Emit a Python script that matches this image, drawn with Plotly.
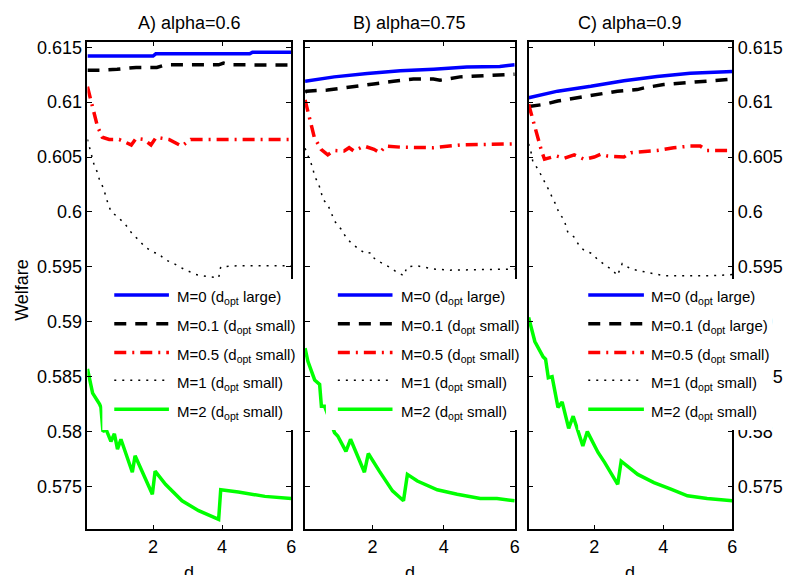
import plotly.graph_objects as go

W, H = 790, 575
FONT = "Liberation Sans, Arial, Helvetica, sans-serif"

# ---------------- data: welfare vs d ----------------
# Panel A (alpha = 0.6)
a_m0_d = [0.1, 2.0, 2.08, 4.8, 4.88, 6.0]
a_m0_w = [0.6142, 0.6142, 0.6144, 0.6144, 0.61455, 0.61455]
a_m01_d = [0.1, 0.45, 0.96, 1.51, 2.11, 2.37, 2.69, 3.9, 4.04, 4.24, 6.0]
a_m01_w = [0.6129, 0.6129, 0.6130, 0.61316, 0.61316, 0.6134, 0.6134, 0.6134, 0.61355, 0.6134, 0.61338]
a_m05_d = [0.1, 0.39, 0.53, 0.73, 1.02, 1.37, 1.51, 1.74, 1.94, 2.09, 2.46, 2.75, 2.83, 3.09, 4.47, 6.0]
a_m05_w = [0.6114, 0.6078, 0.6068, 0.6066, 0.6066, 0.6061, 0.6067, 0.6066, 0.6061, 0.6068, 0.6066,
           0.6061, 0.6060, 0.6066, 0.6066, 0.6066]
a_m1_d = [0.1, 0.18, 0.22, 0.3, 0.39, 0.45, 0.56, 0.62, 0.7, 0.79, 0.96, 1.19, 1.4, 1.6, 1.77, 2.03,
          2.17, 2.32, 2.6, 2.89, 3.24, 3.61, 3.9, 3.96, 4.47, 6.0]
a_m1_w = [0.6066, 0.6057, 0.6050, 0.6042, 0.6036, 0.6029, 0.6022, 0.6015, 0.6007, 0.6000, 0.5996,
          0.5989, 0.5980, 0.5974, 0.5968, 0.5963, 0.5962, 0.5957, 0.5953, 0.5948, 0.5943, 0.5941,
          0.5940, 0.5950, 0.5951, 0.5951]
a_m2_d = [0.1, 0.25, 0.45, 0.49, 0.55, 0.64, 0.78, 0.88, 0.97, 1.07, 1.4, 1.48, 1.98, 2.06, 2.36,
          2.84, 3.32, 3.9, 3.96, 4.47, 5.24, 6.0]
a_m2_w = [0.5857, 0.5835, 0.5825, 0.5822, 0.5800, 0.5802, 0.5791, 0.5798, 0.5784, 0.5793, 0.5763,
          0.5778, 0.5743, 0.5764, 0.5752, 0.5737, 0.5728, 0.5720, 0.5747, 0.5745, 0.5741, 0.5739]

# Panel B (alpha = 0.75)
b_m0_d = [0.1, 0.92, 1.85, 2.78, 3.72, 4.65, 5.58, 6.0]
b_m0_w = [0.6119, 0.6123, 0.6126, 0.61285, 0.6130, 0.6132, 0.61325, 0.6134]
b_m01_d = [0.1, 0.14, 0.73, 1.39, 2.03, 2.59, 3.15, 3.71, 3.9, 4.46, 5.02, 6.0]
b_m01_w = [0.6109, 0.6110, 0.6111, 0.61135, 0.61165, 0.6119, 0.6121, 0.6121, 0.6120, 0.6123, 0.6124, 0.61255]
b_m05_d = [0.1, 0.22, 0.36, 0.55, 0.74, 0.92, 1.2, 1.34, 1.47, 1.76, 2.04, 2.2, 2.37, 2.78, 3.72,
           4.46, 5.21, 6.0]
b_m05_w = [0.6102, 0.6086, 0.6068, 0.6057, 0.6052, 0.6056, 0.60555, 0.60585, 0.60555, 0.6060, 0.6057,
           0.6054, 0.6060, 0.6059, 0.60585, 0.6061, 0.60615, 0.6062]
b_m1_d = [0.1, 0.23, 0.32, 0.36, 0.46, 0.55, 0.59, 0.73, 0.83, 0.92, 1.11, 1.25, 1.39, 1.62, 1.81,
          1.95, 2.04, 2.23, 2.46, 2.69, 2.88, 2.97, 3.25, 3.72, 4.18, 6.0]
b_m1_w = [0.6058, 0.6048, 0.6040, 0.6033, 0.6027, 0.6019, 0.6012, 0.6007, 0.6000, 0.5992, 0.59845,
          0.5977, 0.5972, 0.5966, 0.5962, 0.5963, 0.5958, 0.5954, 0.5950, 0.5945, 0.5942, 0.5950,
          0.5951, 0.5948, 0.5947, 0.5948]
b_m2_d = [0.1, 0.18, 0.37, 0.51, 0.56, 0.65, 0.93, 1.02, 1.25, 1.38, 1.77, 1.88, 2.19, 2.56, 2.87,
          2.98, 3.26, 3.82, 4.38, 5.03, 5.5, 6.0]
b_m2_w = [0.5876, 0.5864, 0.5847, 0.5843, 0.5823, 0.5823, 0.5799, 0.5796, 0.5782, 0.5793, 0.5763,
          0.5780, 0.5764, 0.5746, 0.5737, 0.5761, 0.5755, 0.5747, 0.5743, 0.5739, 0.5739, 0.5737]

# Panel C (alpha = 0.9)
c_m0_d = [0.1, 0.94, 1.9, 2.86, 3.82, 4.78, 6.0]
c_m0_w = [0.6104, 0.6110, 0.61144, 0.61195, 0.61234, 0.61264, 0.6128]
c_m01_d = [0.1, 0.56, 0.94, 1.9, 2.67, 3.25, 3.44, 4.01, 4.78, 5.36, 6.0]
c_m01_w = [0.6096, 0.6098, 0.6101, 0.6106, 0.6110, 0.61114, 0.6113, 0.6116, 0.6118, 0.61195, 0.6121]
c_m05_d = [0.1, 0.18, 0.32, 0.47, 0.56, 0.9, 1.14, 1.42, 1.71, 2.0, 2.19, 2.38, 2.86, 3.06, 3.82,
           4.3, 4.78, 5.07, 5.26, 6.0]
c_m05_w = [0.6098, 0.6089, 0.6071, 0.6056, 0.6048, 0.6051, 0.6049, 0.6052, 0.6048, 0.6050, 0.60525,
           0.6051, 0.6050, 0.6054, 0.6056, 0.60585, 0.6060, 0.6060, 0.6056, 0.6056]
c_m1_d = [0.1, 0.19, 0.22, 0.37, 0.47, 0.61, 0.7, 0.8, 0.9, 0.99, 1.12, 1.23, 1.42, 1.57, 1.71,
          1.95, 2.09, 2.34, 2.53, 2.67, 2.81, 3.06, 3.53, 4.01, 4.78, 5.45, 6.0]
c_m1_w = [0.6062, 0.6052, 0.6046, 0.6039, 0.6033, 0.6025, 0.6019, 0.6012, 0.6006, 0.5998, 0.59936,
          0.5982, 0.5977, 0.5969, 0.5965, 0.5962, 0.5957, 0.5951, 0.5947, 0.5942, 0.5953, 0.5948,
          0.5945, 0.5942, 0.5942, 0.5942, 0.5943]
c_m2_d = [0.1, 0.28, 0.52, 0.59, 0.67, 0.78, 0.95, 1.07, 1.26, 1.39, 1.67, 1.8, 2.11, 2.3, 2.68,
          2.78, 3.26, 3.73, 4.22, 4.7, 5.27, 6.0]
c_m2_w = [0.5904, 0.5882, 0.5868, 0.5866, 0.5849, 0.5850, 0.5822, 0.5827, 0.5803, 0.5814, 0.5787,
          0.5800, 0.5781, 0.5772, 0.5752, 0.5773, 0.5761, 0.57535, 0.57475, 0.57415, 0.5739, 0.5737]

titles = ["A) alpha=0.6", "B) alpha=0.75", "C) alpha=0.9"]
x_ticks = [2, 4, 6]
y_ticks = [0.575, 0.58, 0.585, 0.59, 0.595, 0.6, 0.605, 0.61, 0.615]
y_tick_labels = ["0.575", "0.58", "0.585", "0.59", "0.595", "0.6", "0.605", "0.61", "0.615"]

legend_a = ["M=0 (d<sub>opt</sub> large)", "M=0.1 (d<sub>opt</sub> small)", "M=0.5 (d<sub>opt</sub> small)",
            "M=1 (d<sub>opt</sub> small)", "M=2 (d<sub>opt</sub> small)"]
legend_b = legend_a
legend_c = ["M=0 (d<sub>opt</sub> large)", "M=0.1 (d<sub>opt</sub> large)", "M=0.5 (d<sub>opt</sub> small)",
            "M=1 (d<sub>opt</sub> small)", "M=2 (d<sub>opt</sub> small)"]

panels = [
    [(a_m0_d, a_m0_w), (a_m01_d, a_m01_w), (a_m05_d, a_m05_w), (a_m1_d, a_m1_w), (a_m2_d, a_m2_w)],
    [(b_m0_d, b_m0_w), (b_m01_d, b_m01_w), (b_m05_d, b_m05_w), (b_m1_d, b_m1_w), (b_m2_d, b_m2_w)],
    [(c_m0_d, c_m0_w), (c_m01_d, c_m01_w), (c_m05_d, c_m05_w), (c_m1_d, c_m1_w), (c_m2_d, c_m2_w)],
]
legend_texts = [legend_a, legend_b, legend_c]

# ---------------- styling ----------------
line_styles = [
    dict(color="#0000FF", width=3.5, dash="solid"),
    dict(color="#000000", width=3.5, dash="12px,9px"),
    dict(color="#FF0000", width=3.5, dash="12px,6px,2px,6px"),
    dict(color="#000000", width=1.5, dash="2px,6px"),
    dict(color="#00FF00", width=3.5, dash="solid"),
]

# subplot frames in pixels (left, right); shared top/bottom
x_frames = [(88, 293), (307, 518), (532, 737)]
top_px, bot_px = 38, 529
x_range = [0.1, 6]
y_range = [0.5711, 0.6155]

# legend boxes: (left, right, sample_x0, sample_x1, text_x)
legend_boxes = [(103, 300, 115, 170, 176), (328, 527, 340, 395, 402), (582, 777.5, 592, 648, 653)]
legend_top, legend_bot = 277, 429
row_y = [293, 322, 351, 379, 408]


def px(xp):
    return xp / W


def py(yp):
    return 1 - yp / H


fig = go.Figure()
for i, panel in enumerate(panels):
    xa = "x" if i == 0 else f"x{i + 1}"
    ya = "y" if i == 0 else f"y{i + 1}"
    for (d, w), st in zip(panel, line_styles):
        fig.add_trace(go.Scatter(x=d, y=w, mode="lines", line=st, xaxis=xa, yaxis=ya,
                                 showlegend=False, hoverinfo="skip"))

axis_common = dict(showline=True, linecolor="black", linewidth=1.5, mirror="ticks",
                   ticks="inside", ticklen=5, tickwidth=1, tickcolor="black",
                   showgrid=False, zeroline=False,
                   tickfont=dict(family=FONT, size=18, color="black"))

layout = dict(width=W, height=H, margin=dict(l=0, r=0, t=0, b=0),
              plot_bgcolor="white", paper_bgcolor="white", showlegend=False)

for i, (l, r) in enumerate(x_frames):
    xk = "xaxis" if i == 0 else f"xaxis{i + 1}"
    yk = "yaxis" if i == 0 else f"yaxis{i + 1}"
    xa = "x" if i == 0 else f"x{i + 1}"
    ya = "y" if i == 0 else f"y{i + 1}"
    layout[xk] = dict(axis_common, domain=[px(l), px(r)], range=x_range, anchor=ya,
                      tickvals=x_ticks, ticktext=[str(t) for t in x_ticks])
    yax = dict(axis_common, domain=[py(bot_px), py(top_px)], range=y_range, anchor=xa,
               tickvals=y_ticks, ticktext=y_tick_labels)
    if i == 1:
        yax["showticklabels"] = False
    if i == 2:
        yax["side"] = "right"
    layout[yk] = yax

fig.update_layout(**layout)

annotations = []
shapes = []
for i, (l, r) in enumerate(x_frames):
    cx = (l + r) / 2
    annotations.append(dict(text=titles[i], x=px(cx), y=py(19), xref="paper", yref="paper",
                            xanchor="center", yanchor="middle", showarrow=False,
                            font=dict(family=FONT, size=18, color="black")))
    annotations.append(dict(text="d", x=px(cx), y=py(561), xref="paper", yref="paper",
                            xanchor="center", yanchor="top", showarrow=False,
                            font=dict(family=FONT, size=18, color="black")))

    # legend panel
    bl, br, sx0, sx1, tx = legend_boxes[i]
    shapes.append(dict(type="rect", xref="paper", yref="paper", layer="above",
                       x0=px(bl), x1=px(br), y0=py(legend_bot), y1=py(legend_top),
                       fillcolor="white", line=dict(width=0)))
    for j, st in enumerate(line_styles):
        shapes.append(dict(type="line", xref="paper", yref="paper", layer="above",
                           x0=px(sx0), x1=px(sx1), y0=py(row_y[j]), y1=py(row_y[j]),
                           line=st))
        annotations.append(dict(text=legend_texts[i][j], x=px(tx), y=py(row_y[j] + 3),
                                xref="paper", yref="paper", xanchor="left", yanchor="middle",
                                showarrow=False,
                                font=dict(family=FONT, size=15, color="black")))

annotations.append(dict(text="Welfare", x=px(22), y=py(288), xref="paper", yref="paper",
                        xanchor="center", yanchor="middle", textangle=-90, showarrow=False,
                        font=dict(family=FONT, size=18, color="black")))

fig.update_layout(annotations=annotations, shapes=shapes)
fig.write_html("out.html")
